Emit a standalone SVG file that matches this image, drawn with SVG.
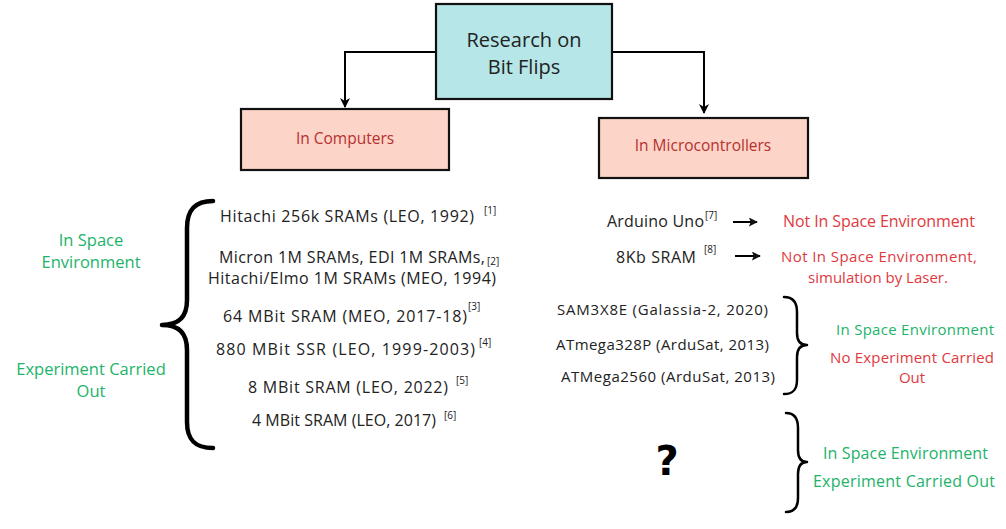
<svg xmlns="http://www.w3.org/2000/svg" width="1006" height="529" viewBox="0 0 1006 529">
<defs>
<marker id="ah" viewBox="0 0 10 10" refX="9" refY="5" markerWidth="5" markerHeight="5" orient="auto" markerUnits="strokeWidth">
<path d="M0,0 L10,5 L0,10 L3,5 z" fill="#000"/>
</marker>
<marker id="ah2" viewBox="0 0 10 10" refX="9" refY="5" markerWidth="4.5" markerHeight="4.5" orient="auto" markerUnits="strokeWidth">
<path d="M0,0 L10,5 L0,10 L2,5 z" fill="#111"/>
</marker>
</defs>
<style>
.t{font-family:"Open Sans","Noto Sans","Liberation Sans",sans-serif;fill:#222}
.box{stroke:#111;stroke-width:2.2}
.pink{fill:#fdd4c8}
.rt{font-family:"Open Sans","Noto Sans","Liberation Sans",sans-serif;fill:#b6302f;font-size:15.5px}
.g{font-family:"Open Sans","Noto Sans","Liberation Sans",sans-serif;fill:#22b36a}
.r{font-family:"Open Sans","Noto Sans","Liberation Sans",sans-serif;fill:#e0393e}
.sup{font-size:10px}
.conn{fill:none;stroke:#000;stroke-width:2}
.brace{fill:none;stroke:#000;stroke-linecap:round;stroke-linejoin:round}
</style>
<rect width="1006" height="529" fill="#fff"/>

<g id="connectors">
<path class="conn" d="M436,52 L345,52 L345,107" marker-end="url(#ah)"/>
<path class="conn" d="M612,52 L704,52 L704,113" marker-end="url(#ah)"/>
<line class="conn" x1="733" y1="222" x2="757" y2="222" marker-end="url(#ah2)"/>
<line class="conn" x1="735" y1="256" x2="760" y2="256" marker-end="url(#ah2)"/>
</g>

<g id="root">
<rect class="box" x="436" y="4" width="176" height="95" fill="#b6e6e8"/>
<text class="t" x="524" y="47" font-size="20" text-anchor="middle">Research on</text>
<text class="t" x="524" y="74" font-size="20" text-anchor="middle">Bit Flips</text>
</g>

<g id="computers">
<rect class="box pink" x="241" y="109" width="208" height="61"/>
<text class="rt" x="345" y="144" text-anchor="middle">In Computers</text>
</g>

<g id="microcontrollers">
<rect class="box pink" x="599" y="118" width="209" height="60"/>
<text class="rt" x="703" y="151" text-anchor="middle">In Microcontrollers</text>
</g>

<g id="computers-list">
<path class="brace" stroke-width="4.5" d="M213,201 C195,201 187,210 187,228 L187,300 C187,318 178,325 162,325 C178,325 187,332 187,350 L187,422 C187,440 195,448 213,448"/>
<text class="g" x="91" y="246" font-size="16.5" text-anchor="middle">In Space</text>
<text class="g" x="91" y="268" font-size="16.5" text-anchor="middle">Environment</text>
<text class="g" x="91" y="375" font-size="16.5" text-anchor="middle">Experiment Carried</text>
<text class="g" x="91" y="397" font-size="16.5" text-anchor="middle">Out</text>
<text class="t" font-size="16" x="220" y="222" textLength="254">Hitachi 256k SRAMs (LEO, 1992)</text>
<text class="t sup" x="484" y="214">[1]</text>
<text class="t" font-size="16" x="219" y="263" textLength="266">Micron 1M SRAMs, EDI 1M SRAMs,</text>
<text class="t sup" x="487" y="265">[2]</text>
<text class="t" font-size="16" x="208" y="284" textLength="288">Hitachi/Elmo 1M SRAMs (MEO, 1994)</text>
<text class="t" font-size="16" x="223" y="322" textLength="244">64 MBit SRAM (MEO, 2017-18)</text>
<text class="t sup" x="468" y="310">[3]</text>
<text class="t" font-size="16" x="216" y="355" textLength="259">880 MBit SSR (LEO, 1999-2003)</text>
<text class="t sup" x="479" y="346">[4]</text>
<text class="t" font-size="16" x="248" y="393" textLength="200">8 MBit SRAM (LEO, 2022)</text>
<text class="t sup" x="456" y="384">[5]</text>
<text class="t" font-size="16" x="252" y="426" textLength="184">4 MBit SRAM (LEO, 2017)</text>
<text class="t sup" x="444" y="419">[6]</text>
</g>

<g id="mcu-lab">
<text class="t" font-size="16" x="607" y="227" textLength="97">Arduino Uno</text>
<text class="t sup" x="705" y="219">[7]</text>
<text class="r" font-size="16" x="783" y="227" textLength="192">Not In Space Environment</text>
<text class="t" font-size="16" x="616" y="263" textLength="80">8Kb SRAM</text>
<text class="t sup" x="704" y="253">[8]</text>
<text class="r" font-size="15" x="781" y="262" textLength="196">Not In Space Environment,</text>
<text class="r" font-size="15" x="878" y="283" text-anchor="middle">simulation by Laser.</text>
</g>

<g id="mcu-space">
<text class="t" font-size="15" x="557" y="315" textLength="211">SAM3X8E (Galassia-2,  2020)</text>
<text class="t" font-size="15" x="556" y="350" textLength="213">ATmega328P (ArduSat, 2013)</text>
<text class="t" font-size="15" x="561" y="382" textLength="214">ATMega2560 (ArduSat, 2013)</text>
<path class="brace" stroke-width="2.5" d="M784,297 C793,297 797,302 797,312 L797,333 C797,341 800,345 807,345 C800,345 797,349 797,357 L797,380 C797,390 793,394 784,394"/>
<text class="g" font-size="15" x="836" y="335" textLength="158">In Space Environment</text>
<text class="r" font-size="15" x="830" y="363" textLength="164">No Experiment Carried</text>
<text class="r" font-size="15" x="912" y="383" text-anchor="middle">Out</text>
</g>

<g id="unknown">
<text x="667" y="475" font-family="'DejaVu Sans','Liberation Sans',sans-serif" font-weight="bold" font-size="40" text-anchor="middle" fill="#000">?</text>
<path class="brace" stroke-width="2.5" d="M786,413 C794,413 798,418 798,428 L798,450 C798,458 801,462 807,462 C801,462 798,466 798,474 L798,498 C798,508 794,512 786,512"/>
<text class="g" font-size="16" x="823" y="459" textLength="165">In Space Environment</text>
<text class="g" font-size="16" x="813" y="487" textLength="182">Experiment Carried Out</text>
</g>
</svg>
